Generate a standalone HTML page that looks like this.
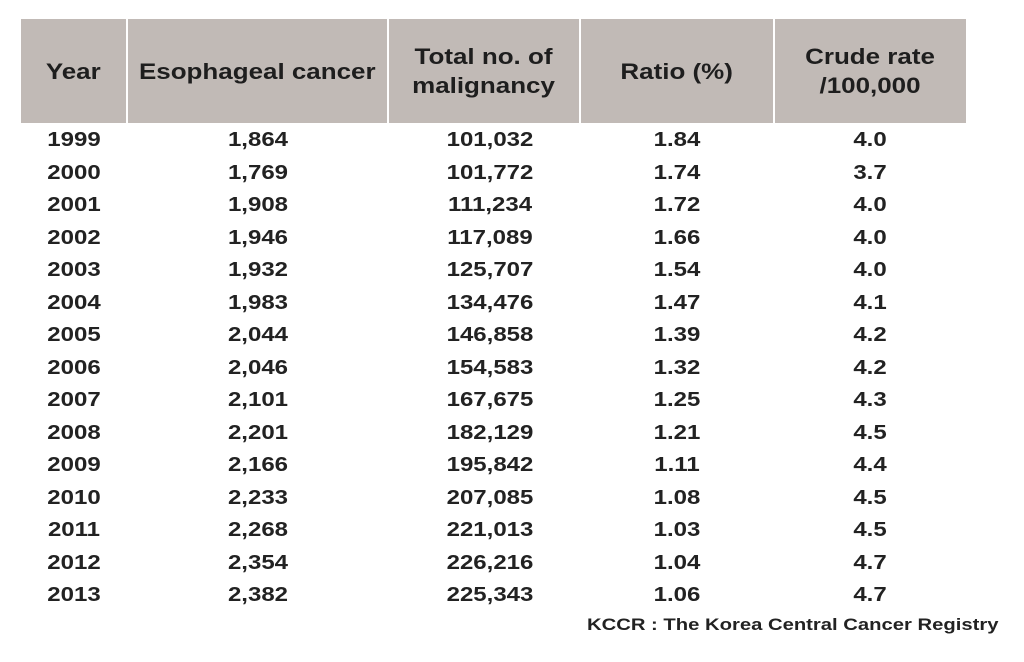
<!DOCTYPE html>
<html><head><style>
body{margin:0;width:1024px;height:662px;background:#fff;font-family:"Liberation Sans",Arial,sans-serif;font-weight:bold;color:#222;position:relative;overflow:hidden}
.h{position:absolute;top:19px;height:104px;background:#c1bab6;display:flex;align-items:center;justify-content:center;text-align:center;font-size:22px;line-height:29px;color:#1e1e1e}
.h span{display:inline-block;transform:scaleX(1.18)}
.c{position:absolute;font-size:20px;text-align:center;line-height:20px;transform:scaleX(1.2)}
</style></head><body>
<div class="h" style="left:21px;width:105px"><span>Year</span></div>
<div class="h" style="left:128px;width:259px"><span>Esophageal cancer</span></div>
<div class="h" style="left:389px;width:190px"><span>Total no. of<br>malignancy</span></div>
<div class="h" style="left:581px;width:192px"><span>Ratio (%)</span></div>
<div class="h" style="left:775px;width:191px"><span>Crude rate<br>/100,000</span></div>
<div id="rows"></div>
<div style="position:absolute;left:587px;top:615px;font-size:17px;transform:scaleX(1.19);transform-origin:0 0;white-space:nowrap">KCCR : The Korea Central Cancer Registry</div>
<script>
var d=[["1999","1,864","101,032","1.84","4.0"],["2000","1,769","101,772","1.74","3.7"],["2001","1,908","111,234","1.72","4.0"],["2002","1,946","117,089","1.66","4.0"],["2003","1,932","125,707","1.54","4.0"],["2004","1,983","134,476","1.47","4.1"],["2005","2,044","146,858","1.39","4.2"],["2006","2,046","154,583","1.32","4.2"],["2007","2,101","167,675","1.25","4.3"],["2008","2,201","182,129","1.21","4.5"],["2009","2,166","195,842","1.11","4.4"],["2010","2,233","207,085","1.08","4.5"],["2011","2,268","221,013","1.03","4.5"],["2012","2,354","226,216","1.04","4.7"],["2013","2,382","225,343","1.06","4.7"]];
var cx=[74,258,490,677,870],h="";
d.forEach(function(r,i){var y=130+i*32.5;r.forEach(function(t,j){h+='<div class="c" style="left:'+(cx[j]-80)+'px;width:160px;top:'+y+'px">'+t+'</div>';});});
document.getElementById("rows").innerHTML=h;
</script>
</body></html>
